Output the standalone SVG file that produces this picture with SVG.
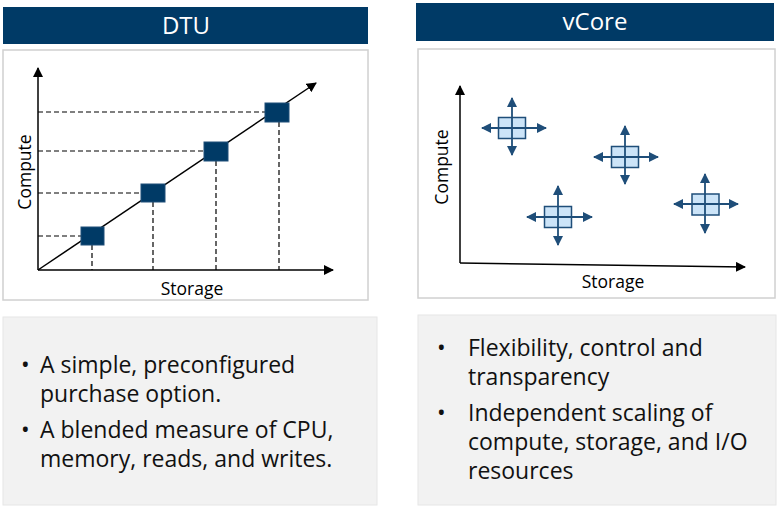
<svg xmlns="http://www.w3.org/2000/svg" width="777" height="506" viewBox="0 0 777 506">
<defs>
<style>
.hdr{fill:#003a66}
.hdrt{fill:#fff;font-family:"Open Sans","Noto Sans",sans-serif;font-size:24px;text-anchor:middle}
.panel{fill:#fff;stroke:#d0d0d0;stroke-width:1.5}
.note{fill:#f2f2f2;stroke:#e6e6e6;stroke-width:1}
.axis{stroke:#000;stroke-width:1.5;fill:none}
.dash{stroke:#000;stroke-width:1.2;stroke-dasharray:5,3;fill:none}
.lbl{font-family:"Open Sans","Noto Sans",sans-serif;font-size:17.5px;fill:#000;text-anchor:middle}
.body{font-family:"Open Sans","Noto Sans",sans-serif;font-size:23px;fill:#111}
.dsq{fill:#003a66;stroke:#1f4e79;stroke-width:1}
.lsq{fill:#cce4f8;stroke:#1f4e79;stroke-width:1.5}
.arr{stroke:#1f4e79;stroke-width:1.8;fill:none;marker-start:url(#ba);marker-end:url(#ba)}
</style>
<marker id="ka" viewBox="0 0 10 10" refX="9" refY="5" markerWidth="10" markerHeight="10" markerUnits="userSpaceOnUse" orient="auto"><path d="M0,0 L10,5 L0,10 z" fill="#000"/></marker>
<marker id="ba" viewBox="0 0 10 10" refX="9" refY="5" markerWidth="10" markerHeight="10" markerUnits="userSpaceOnUse" orient="auto-start-reverse"><path d="M0,0 L10,5 L0,10 z" fill="#1f4e79"/></marker>
</defs>

<g id="dtu-header"><rect class="hdr" x="3" y="7" width="365" height="37"/><text class="hdrt" x="186" y="34">DTU</text></g>
<g id="vcore-header"><rect class="hdr" x="416" y="3" width="358" height="38"/><text class="hdrt" x="595" y="30">vCore</text></g>

<g id="dtu-chart">
<rect class="panel" x="3" y="50" width="365" height="250"/>
<g id="connectors-dtu">
<line class="dash" x1="38" y1="236" x2="82" y2="236"/>
<line class="dash" x1="38" y1="193" x2="142" y2="193"/>
<line class="dash" x1="38" y1="151" x2="205" y2="151"/>
<line class="dash" x1="38" y1="112" x2="266" y2="112"/>
<line class="dash" x1="92" y1="245" x2="92" y2="270"/>
<line class="dash" x1="153" y1="202" x2="153" y2="270"/>
<line class="dash" x1="216" y1="161" x2="216" y2="270"/>
<line class="dash" x1="279" y1="122" x2="279" y2="270"/>
<line class="axis" x1="38" y1="270" x2="38" y2="68" marker-end="url(#ka)"/>
<line class="axis" x1="38" y1="270" x2="333" y2="270" marker-end="url(#ka)"/>
<line class="axis" x1="38" y1="270" x2="316" y2="83" marker-end="url(#ka)"/>
</g>
<g id="dtu-points">
<rect class="dsq" x="81" y="227" width="23" height="18"/>
<rect class="dsq" x="141" y="184" width="24" height="18"/>
<rect class="dsq" x="204" y="142" width="24" height="19"/>
<rect class="dsq" x="265" y="103" width="24" height="19"/>
</g>
<text class="lbl" transform="translate(31,172) rotate(-90)">Compute</text>
<text class="lbl" x="192" y="295">Storage</text>
</g>

<g id="vcore-chart">
<rect class="panel" x="418" y="49" width="357" height="249"/>
<g id="connectors-vcore">
<line class="axis" x1="460" y1="263" x2="460" y2="86" marker-end="url(#ka)"/>
<line class="axis" x1="460" y1="263" x2="745" y2="267" marker-end="url(#ka)"/>
</g>
<g id="vc1"><rect class="lsq" x="498.5" y="117.5" width="27" height="21"/><line class="arr" x1="512" y1="98" x2="512" y2="155"/><line class="arr" x1="482" y1="128" x2="546" y2="128"/></g>
<g id="vc2"><rect class="lsq" x="611.5" y="146.5" width="27" height="21"/><line class="arr" x1="625" y1="126" x2="625" y2="184"/><line class="arr" x1="594" y1="157" x2="658" y2="157"/></g>
<g id="vc3"><rect class="lsq" x="544.5" y="206.5" width="27" height="21"/><line class="arr" x1="558" y1="186" x2="558" y2="245"/><line class="arr" x1="527" y1="217" x2="592" y2="217"/></g>
<g id="vc4"><rect class="lsq" x="692" y="194" width="27" height="21"/><line class="arr" x1="705" y1="174" x2="705" y2="233"/><line class="arr" x1="674" y1="204" x2="738" y2="204"/></g>
<text class="lbl" transform="translate(448,167) rotate(-90)">Compute</text>
<text class="lbl" x="613" y="288">Storage</text>
</g>

<g id="dtu-notes">
<rect class="note" x="3" y="317" width="374" height="188"/>
<text class="body"><tspan x="21" y="373">•</tspan><tspan x="40" y="373">A simple, preconfigured</tspan><tspan x="40" y="402">purchase option.</tspan></text>
<text class="body"><tspan x="21" y="438">•</tspan><tspan x="40" y="438">A blended measure of CPU,</tspan><tspan x="40" y="467">memory, reads, and writes.</tspan></text>
</g>

<g id="vcore-notes">
<rect class="note" x="418" y="315" width="358" height="190"/>
<text class="body"><tspan x="437" y="356">•</tspan><tspan x="468" y="356">Flexibility, control and</tspan><tspan x="468" y="385">transparency</tspan></text>
<text class="body"><tspan x="437" y="421">•</tspan><tspan x="468" y="421">Independent scaling of</tspan><tspan x="468" y="450">compute, storage, and I/O</tspan><tspan x="468" y="479">resources</tspan></text>
</g>
</svg>
